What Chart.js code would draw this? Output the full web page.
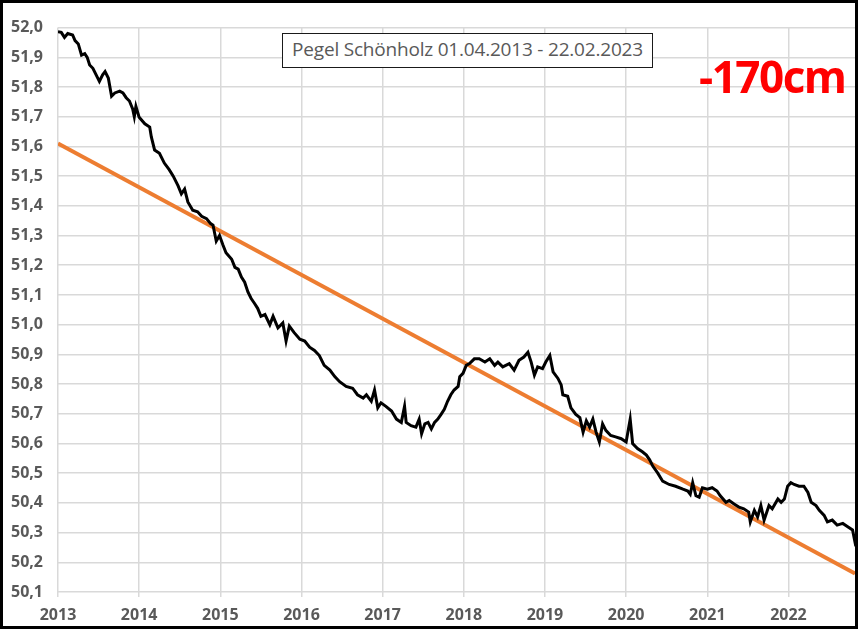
<!DOCTYPE html>
<html>
<head>
<meta charset="utf-8">
<script src="https://cdn.jsdelivr.net/npm/chart.js@4/dist/chart.umd.min.js"></script>
<style>
  body { margin: 0; background: #fff; }
  #frame {
    position: absolute; left: 0; top: 0; width: 858px; height: 629px;
    border: 3px solid #000; box-sizing: border-box; z-index: 5;
  }
  #chart { position: absolute; left: 3px; top: 3px; }
  .title-box {
    position: absolute; left: 282px; top: 33px; width: 371px; height: 35px;
    border: 1.5px solid #1a1a1a; box-sizing: border-box; background: #fff;
    font-family: "Open Sans", sans-serif; font-size: 19px; color: #595959;
    line-height: 31px; text-align: center; white-space: nowrap; z-index: 3;
    letter-spacing: -0.2px;
  }
  .drop {
    position: absolute; left: 699px; top: 54px;
    font-family: "Open Sans", sans-serif; font-weight: bold; font-size: 44px;
    line-height: 1; color: #ff0000; letter-spacing: -1.5px; z-index: 3;
  }
</style>
</head>
<body>
<canvas id="chart" width="852" height="623"></canvas>
<div class="title-box">Pegel Schönholz 01.04.2013 - 22.02.2023</div>
<div class="drop">-170cm</div>
<div id="frame"></div>
<script>
// gauge level (m), x in decimal years
const years = [
  2013.00, 2013.04, 2013.08, 2013.12, 2013.18, 2013.21, 2013.25, 2013.29, 2013.33, 2013.36,
  2013.39, 2013.43, 2013.47, 2013.51, 2013.55, 2013.58, 2013.62, 2013.66, 2013.70, 2013.76,
  2013.80, 2013.84, 2013.88, 2013.92, 2013.94, 2013.96, 2014.00, 2014.07, 2014.13, 2014.15,
  2014.19, 2014.25, 2014.31, 2014.37, 2014.42, 2014.48, 2014.52, 2014.56, 2014.60, 2014.66,
  2014.72, 2014.77, 2014.83, 2014.88, 2014.91, 2014.95, 2014.99, 2015.03, 2015.07, 2015.14,
  2015.18, 2015.22, 2015.26, 2015.30, 2015.34, 2015.38, 2015.42, 2015.46, 2015.50, 2015.55,
  2015.61, 2015.65, 2015.71, 2015.77, 2015.81, 2015.85, 2015.91, 2015.98, 2016.04, 2016.10,
  2016.16, 2016.22, 2016.28, 2016.35, 2016.41, 2016.47, 2016.55, 2016.63, 2016.69, 2016.76,
  2016.80, 2016.86, 2016.90, 2016.94, 2016.98, 2017.04, 2017.11, 2017.17, 2017.23, 2017.27,
  2017.29, 2017.35, 2017.41, 2017.45, 2017.48, 2017.52, 2017.56, 2017.60, 2017.64, 2017.68,
  2017.72, 2017.76, 2017.80, 2017.84, 2017.88, 2017.93, 2017.95, 2017.99, 2018.03, 2018.07,
  2018.13, 2018.19, 2018.26, 2018.32, 2018.38, 2018.42, 2018.48, 2018.56, 2018.62, 2018.68,
  2018.74, 2018.79, 2018.83, 2018.87, 2018.91, 2018.97, 2019.01, 2019.06, 2019.10, 2019.16,
  2019.20, 2019.22, 2019.28, 2019.32, 2019.38, 2019.43, 2019.47, 2019.51, 2019.55, 2019.59,
  2019.63, 2019.67, 2019.71, 2019.75, 2019.81, 2019.87, 2019.94, 2020.00, 2020.05, 2020.08,
  2020.14, 2020.20, 2020.25, 2020.29, 2020.33, 2020.39, 2020.45, 2020.53, 2020.61, 2020.70,
  2020.76, 2020.79, 2020.82, 2020.86, 2020.90, 2020.94, 2021.00, 2021.06, 2021.12, 2021.16,
  2021.23, 2021.27, 2021.33, 2021.39, 2021.45, 2021.51, 2021.53, 2021.58, 2021.62, 2021.66,
  2021.70, 2021.76, 2021.80, 2021.87, 2021.91, 2021.95, 2021.99, 2022.03, 2022.07, 2022.13,
  2022.19, 2022.24, 2022.28, 2022.34, 2022.38, 2022.44, 2022.48, 2022.54, 2022.60, 2022.67,
  2022.73, 2022.79, 2022.83
];
const levels = [
  51.986, 51.984, 51.967, 51.980, 51.975, 51.956, 51.945, 51.907, 51.912, 51.900,
  51.874, 51.863, 51.841, 51.819, 51.841, 51.852, 51.830, 51.769, 51.780, 51.786,
  51.780, 51.764, 51.753, 51.726, 51.700, 51.735, 51.698, 51.676, 51.665, 51.632,
  51.588, 51.577, 51.544, 51.522, 51.500, 51.467, 51.440, 51.456, 51.413, 51.385,
  51.380, 51.365, 51.357, 51.340, 51.335, 51.281, 51.300, 51.270, 51.242, 51.220,
  51.193, 51.187, 51.160, 51.143, 51.110, 51.088, 51.072, 51.055, 51.028, 51.034,
  51.000, 51.028, 50.989, 51.006, 50.945, 50.995, 50.973, 50.951, 50.945, 50.924,
  50.913, 50.896, 50.863, 50.847, 50.825, 50.808, 50.792, 50.786, 50.764, 50.753,
  50.764, 50.742, 50.780, 50.720, 50.737, 50.725, 50.709, 50.682, 50.671, 50.725,
  50.671, 50.660, 50.655, 50.682, 50.633, 50.666, 50.671, 50.649, 50.671, 50.682,
  50.698, 50.715, 50.742, 50.764, 50.780, 50.792, 50.825, 50.836, 50.863, 50.869,
  50.885, 50.885, 50.874, 50.885, 50.863, 50.874, 50.858, 50.869, 50.847, 50.880,
  50.891, 50.907, 50.874, 50.830, 50.858, 50.852, 50.874, 50.896, 50.841, 50.819,
  50.797, 50.764, 50.759, 50.720, 50.698, 50.687, 50.638, 50.676, 50.655, 50.682,
  50.638, 50.605, 50.666, 50.644, 50.627, 50.622, 50.616, 50.605, 50.682, 50.600,
  50.583, 50.572, 50.561, 50.545, 50.523, 50.500, 50.473, 50.462, 50.456, 50.446,
  50.440, 50.429, 50.468, 50.424, 50.419, 50.451, 50.446, 50.451, 50.440, 50.424,
  50.402, 50.408, 50.396, 50.386, 50.380, 50.369, 50.336, 50.375, 50.353, 50.391,
  50.342, 50.391, 50.380, 50.413, 50.402, 50.413, 50.456, 50.468, 50.462, 50.456,
  50.456, 50.435, 50.402, 50.391, 50.375, 50.358, 50.336, 50.342, 50.325, 50.331,
  50.320, 50.309, 50.254
];
// linear trend, start and end
const trendYears = [2013.0, 2022.82];
const trendLevels = [51.61, 50.162];

const X_MIN = 2013, X_MAX = 2022.82;
const Y_MIN = 50.1, Y_MAX = 52.0;

const tickFont = { family: "Open Sans", size: 16, weight: "bold" };

new Chart(document.getElementById("chart"), {
  type: "line",
  data: {
    datasets: [
      {
        label: "Pegel",
        data: years.map((x, i) => ({ x, y: levels[i] })),
        borderColor: "#000",
        borderWidth: 3,
        pointRadius: 0,
        tension: 0,
      },
      {
        label: "Trend",
        data: trendYears.map((x, i) => ({ x, y: trendLevels[i] })),
        borderColor: "#ed7d31",
        borderWidth: 4,
        pointRadius: 0,
      },
    ],
  },
  options: {
    responsive: false,
    animation: false,
    layout: { padding: { top: 12, left: 0, right: 0, bottom: 0 } },
    plugins: { legend: { display: false }, tooltip: { enabled: false } },
    scales: {
      x: {
        type: "linear",
        min: X_MIN,
        max: X_MAX,
        afterFit: (s) => { s.height = 34; },
        border: { display: false },
        grid: { color: "#d9d9d9", lineWidth: 1.5, drawTicks: true, tickLength: 5 },
        ticks: {
          stepSize: 1,
          includeBounds: false,
          maxRotation: 0,
          padding: 9,
          color: "#595959",
          font: tickFont,
          callback: (v) => String(v),
        },
      },
      y: {
        min: Y_MIN,
        max: Y_MAX,
        afterFit: (s) => { s.width = 55; },
        border: { display: false },
        grid: { color: "#d9d9d9", lineWidth: 1.5, drawTicks: false },
        ticks: {
          stepSize: 0.1,
          padding: 15,
          color: "#595959",
          font: tickFont,
          callback: (v) => Number(v).toFixed(1).replace(".", ","),
        },
      },
    },
  },
});
</script>
</body>
</html>
